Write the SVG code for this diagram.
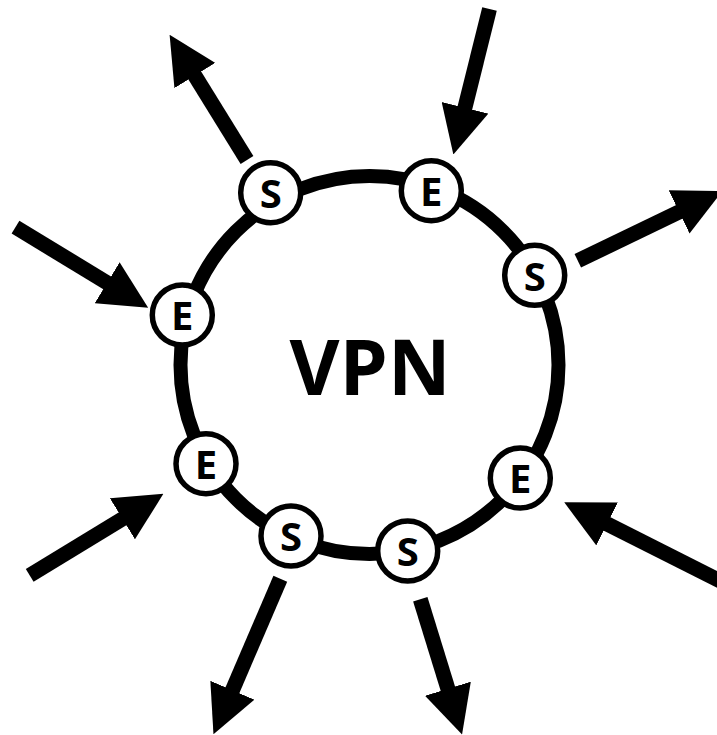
<svg xmlns="http://www.w3.org/2000/svg" width="717" height="735" viewBox="0 0 717 735">
<defs>
<style>
.ring{fill:none;stroke:#000;stroke-width:14}
.node circle{fill:#fff;stroke:#000;stroke-width:5.5}
.node text{font-family:"Open Sans","DejaVu Sans",sans-serif;font-weight:bold;font-size:40px;text-anchor:middle;fill:#000}
.title{font-family:"Open Sans","DejaVu Sans",sans-serif;font-weight:bold;font-size:77px;text-anchor:middle;fill:#000}
.arrow{stroke:#000;stroke-width:15;fill:none;marker-end:url(#head)}
</style>
<marker id="head" markerUnits="userSpaceOnUse" markerWidth="48" markerHeight="48" viewBox="0 0 47 47" refX="1" refY="23.5" orient="auto">
<path d="M0,0 L47,23.5 L0,47 Z" fill="#000"/>
</marker>
</defs>
<rect width="717" height="735" fill="#fff"/>
<circle class="ring" cx="369.5" cy="365" r="189"/>
<text class="title" x="370" y="395">VPN</text>
<g id="connectors">
<line class="arrow" x1="247" y1="160" x2="194.3" y2="74.7"/>
<line class="arrow" x1="15.5" y1="227.2" x2="108" y2="283.3"/>
<line class="arrow" x1="489.5" y1="9" x2="464.7" y2="108.8"/>
<line class="arrow" x1="577.8" y1="260.8" x2="680" y2="211.5"/>
<line class="arrow" x1="29.7" y1="575.3" x2="123.3" y2="518.3"/>
<line class="arrow" x1="280.3" y1="578.7" x2="232" y2="691.2"/>
<line class="arrow" x1="722" y1="581.8" x2="606.2" y2="523.5"/>
<line class="arrow" x1="420.3" y1="599.2" x2="448.2" y2="689.7"/>
</g>
<g id="node-s1" class="node"><circle cx="270.7" cy="192.7" r="30"/><text x="270.7" y="208">S</text></g>
<g id="node-e1" class="node"><circle cx="431.3" cy="190.7" r="30"/><text x="431.3" y="206">E</text></g>
<g id="node-s2" class="node"><circle cx="534.7" cy="275.3" r="30"/><text x="534.7" y="290.6">S</text></g>
<g id="node-e2" class="node"><circle cx="182.3" cy="315" r="30"/><text x="182.3" y="330.3">E</text></g>
<g id="node-e3" class="node"><circle cx="206" cy="463.7" r="30"/><text x="206" y="479">E</text></g>
<g id="node-e4" class="node"><circle cx="520.3" cy="478" r="30"/><text x="520.3" y="493.3">E</text></g>
<g id="node-s3" class="node"><circle cx="291" cy="536" r="30"/><text x="291" y="551.3">S</text></g>
<g id="node-s4" class="node"><circle cx="407.7" cy="551" r="30"/><text x="407.7" y="566.3">S</text></g>
</svg>
